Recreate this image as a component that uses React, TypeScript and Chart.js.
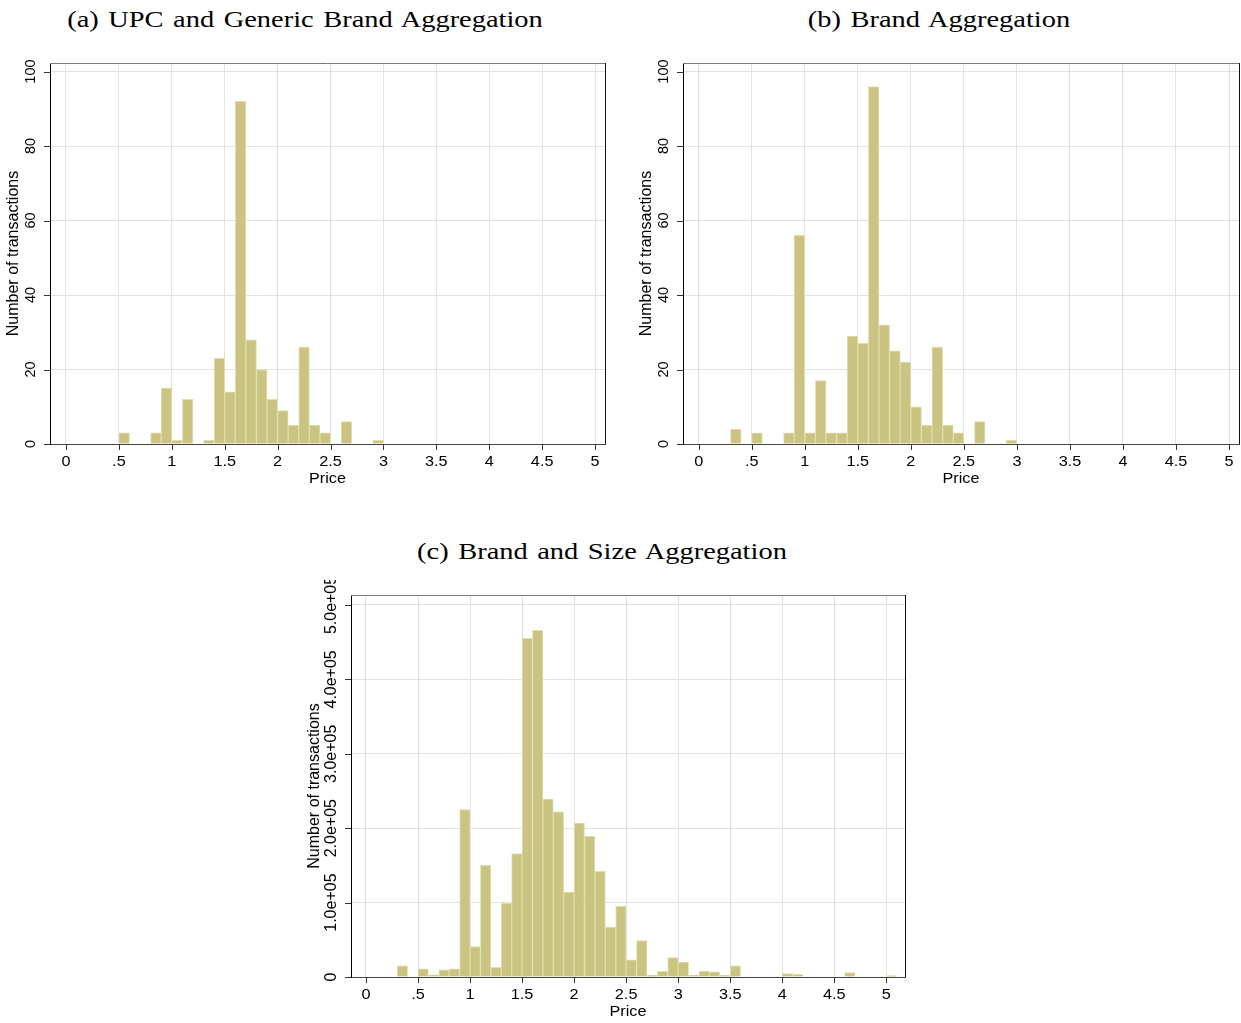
import React, { useEffect, useRef } from "react";
import { Chart, registerables } from "chart.js";

Chart.register(...registerables);

// ---------------- data ----------------
const binsA = [0.5, 0.8, 0.9, 1.0, 1.1, 1.3, 1.4, 1.5, 1.6, 1.7, 1.8, 1.9, 2.0, 2.1, 2.2, 2.3, 2.4, 2.6, 2.9];
const countsA = [3, 3, 15, 1, 12, 1, 23, 14, 92, 28, 20, 12, 9, 5, 26, 5, 3, 6, 1];

const binsB = [0.3, 0.5, 0.8, 0.9, 1.0, 1.1, 1.2, 1.3, 1.4, 1.5, 1.6, 1.7, 1.8, 1.9, 2.0, 2.1, 2.2, 2.3, 2.4, 2.6, 2.9];
const countsB = [4, 3, 3, 56, 3, 17, 3, 3, 29, 27, 96, 32, 25, 22, 10, 5, 26, 5, 3, 6, 1];

const binsC = [0.3, 0.5, 0.6, 0.7, 0.8, 0.9, 1.0, 1.1, 1.2, 1.3, 1.4, 1.5, 1.6, 1.7, 1.8, 1.9, 2.0, 2.1, 2.2, 2.3, 2.4, 2.5, 2.6, 2.7, 2.8, 2.9, 3.0, 3.1, 3.2, 3.3, 3.4, 3.5, 4.0, 4.1, 4.6, 5.0];
const countsC = [15000, 11000, 3000, 9500, 11000, 225000, 41000, 150000, 13000, 99000, 166000, 455000, 466000, 239000, 222000, 114000, 207000, 189000, 142000, 67000, 95000, 23000, 49000, 2300, 7700, 26000, 20000, 2700, 8000, 7000, 2500, 15000, 4500, 3500, 6000, 1800];

const binWidth = 0.1;

const xTickValues = [0, 0.5, 1, 1.5, 2, 2.5, 3, 3.5, 4, 4.5, 5];
const xTickLabels = ["0", ".5", "1", "1.5", "2", "2.5", "3", "3.5", "4", "4.5", "5"];

const yTickValuesAB = [0, 20, 40, 60, 80, 100];
const yTickLabelsAB = ["0", "20", "40", "60", "80", "100"];

const yTickValuesC = [0, 100000, 200000, 300000, 400000, 500000];
const yTickLabelsC = ["0", "1.0e+05", "2.0e+05", "3.0e+05", "4.0e+05", "5.0e+05"];

const titleA = "(a) UPC and Generic Brand Aggregation";
const titleB = "(b) Brand Aggregation";
const titleC = "(c) Brand and Size Aggregation";
const xTitle = "Price";
const yTitle = "Number of transactions";

// ---------------- styles ----------------
const BAR_FILL = "rgb(202,196,131)";
const BAR_EDGE = "rgb(226,222,172)";
const GRID = "rgb(226,226,226)";
const SANS = "'Liberation Sans', Arial, Helvetica, sans-serif";

type PanelProps = {
  bins: number[];
  counts: number[];
  yTicks: number[];
  yLabels: string[];
  xMin: number;
  xMax: number;
  yMax: number;
  left: number;
  top: number;
  w: number;
  h: number;
  padTop: number;
  padRight: number;
  yAxisW: number;
  xAxisH: number;
  yLabelFont: number;
};

function Panel(p: PanelProps) {
  const ref = useRef<HTMLCanvasElement>(null);
  useEffect(() => {
    if (!ref.current) return;
    const data = p.bins.map((b, i) => ({ x: b + binWidth / 2, y: p.counts[i] }));
    const textPlugin = {
      id: "stataText",
      afterDraw(chart: any) {
        const { ctx, chartArea: a, scales } = chart;
        const xs = scales.x;
        const ys = scales.y;
        ctx.save();
        // frame: top + right
        ctx.lineWidth = 1;
        ctx.strokeStyle = "#7a7a7a";
        ctx.beginPath();
        ctx.moveTo(a.left, Math.round(a.top) + 0.5);
        ctx.lineTo(a.right, Math.round(a.top) + 0.5);
        ctx.stroke();
        ctx.strokeStyle = "#111";
        ctx.beginPath();
        ctx.moveTo(Math.round(a.right) + 0.5, a.top);
        ctx.lineTo(Math.round(a.right) + 0.5, a.bottom);
        ctx.stroke();
        // tick marks
        ctx.strokeStyle = "#333";
        xTickValues.forEach((v) => {
          const x = Math.round(xs.getPixelForValue(v)) + 0.5;
          ctx.beginPath();
          ctx.moveTo(x, a.bottom);
          ctx.lineTo(x, a.bottom + 6);
          ctx.stroke();
        });
        p.yTicks.forEach((v) => {
          const y = Math.round(ys.getPixelForValue(v)) + 0.5;
          ctx.beginPath();
          ctx.moveTo(a.left - 6, y);
          ctx.lineTo(a.left, y);
          ctx.stroke();
        });
        // x tick labels
        ctx.fillStyle = "#000";
        ctx.font = `14.5px ${SANS}`;
        ctx.textAlign = "center";
        ctx.textBaseline = "middle";
        xTickValues.forEach((v, i) => {
          const x = xs.getPixelForValue(v);
          ctx.save();
          ctx.translate(x, a.bottom + 17.5);
          ctx.scale(1.12, 1);
          ctx.fillText(xTickLabels[i], 0, 0);
          ctx.restore();
        });
        // x title
        ctx.save();
        ctx.translate((a.left + a.right) / 2, a.bottom + 34.5);
        ctx.scale(1.12, 1);
        ctx.fillText(xTitle, 0, 0);
        ctx.restore();
        // y tick labels (rotated)
        ctx.font = `${p.yLabelFont}px ${SANS}`;
        p.yTicks.forEach((v, i) => {
          const y = ys.getPixelForValue(v);
          ctx.save();
          ctx.translate(a.left - 19.5, y);
          ctx.rotate(-Math.PI / 2);
          ctx.fillText(p.yLabels[i], 0, 0);
          ctx.restore();
        });
        // y title
        ctx.font = `16px ${SANS}`;
        ctx.save();
        ctx.translate(a.left - 36, (a.top + a.bottom) / 2);
        ctx.rotate(-Math.PI / 2);
        ctx.fillText(yTitle, 0, 0);
        ctx.restore();
        ctx.restore();
      },
    };
    const chart = new Chart(ref.current, {
      type: "bar",
      data: {
        datasets: [
          {
            data,
            backgroundColor: BAR_FILL,
            borderColor: BAR_EDGE,
            borderWidth: 1,
            borderSkipped: "start",
            barPercentage: 1,
            categoryPercentage: 1,
          } as any,
        ],
      },
      options: {
        animation: false,
        responsive: false,
        maintainAspectRatio: false,
        layout: { padding: { top: p.padTop, right: p.padRight, left: 0, bottom: 0 } },
        plugins: { legend: { display: false }, tooltip: { enabled: false }, title: { display: false } },
        scales: {
          x: {
            type: "linear",
            offset: false,
            min: p.xMin,
            max: p.xMax,
            afterBuildTicks: (s: any) => {
              s.ticks = xTickValues.map((v) => ({ value: v }));
            },
            afterFit: (s: any) => {
              s.height = p.xAxisH;
            },
            ticks: { display: false },
            grid: { color: GRID, lineWidth: 1, drawTicks: false, offset: false },
            border: { display: true, color: "#444", width: 1 },
          },
          y: {
            type: "linear",
            min: 0,
            max: p.yMax,
            afterBuildTicks: (s: any) => {
              s.ticks = p.yTicks.map((v) => ({ value: v }));
            },
            afterFit: (s: any) => {
              s.width = p.yAxisW;
            },
            ticks: { display: false },
            grid: { color: GRID, lineWidth: 1, drawTicks: false },
            border: { display: true, color: "#000", width: 1 },
          },
        },
      } as any,
      plugins: [textPlugin],
    });
    return () => chart.destroy();
  }, []);
  return (
    <canvas
      ref={ref}
      width={p.w}
      height={p.h}
      style={{ position: "absolute", left: p.left, top: p.top, width: p.w, height: p.h }}
    />
  );
}

function Title({ text, cx, cy }: { text: string; cx: number; cy: number }) {
  return (
    <div
      style={{
        position: "absolute",
        left: cx - 320,
        top: cy - 15,
        width: 640,
        height: 30,
        lineHeight: "30px",
        textAlign: "center",
        fontFamily: "'Liberation Serif', 'Times New Roman', serif",
        fontSize: 23.5,
        wordSpacing: "2px",
        color: "#000",
        whiteSpace: "nowrap",
        transform: "scaleX(1.21)",
        transformOrigin: "50% 50%",
      }}
    >
      {text}
    </div>
  );
}

export default function App() {
  return (
    <div style={{ position: "absolute", left: 0, top: 0, width: 1241, height: 1023, background: "#fff", overflow: "hidden" }}>
      <Title text={titleA} cx={305} cy={19} />
      <Title text={titleB} cx={939} cy={19} />
      <Title text={titleC} cx={602} cy={551} />
      <Panel
        bins={binsA}
        counts={countsA}
        yTicks={yTickValuesAB}
        yLabels={yTickLabelsAB}
        xMin={-0.151}
        xMax={5.094}
        yMax={102.3}
        left={0}
        top={50}
        w={620}
        h={445}
        padTop={13}
        padRight={15}
        yAxisW={50}
        xAxisH={51}
        yLabelFont={14.5}
      />
      <Panel
        bins={binsB}
        counts={countsB}
        yTicks={yTickValuesAB}
        yLabels={yTickLabelsAB}
        xMin={-0.148}
        xMax={5.094}
        yMax={102.3}
        left={625}
        top={50}
        w={616}
        h={445}
        padTop={13}
        padRight={2}
        yAxisW={58}
        xAxisH={51}
        yLabelFont={14.5}
      />
      <Panel
        bins={binsC}
        counts={countsC}
        yTicks={yTickValuesC}
        yLabels={yTickLabelsC}
        xMin={-0.144}
        xMax={5.18}
        yMax={513400}
        left={290}
        top={580}
        w={625}
        h={443}
        padTop={15}
        padRight={10}
        yAxisW={61}
        xAxisH={46}
        yLabelFont={16}
      />
    </div>
  );
}
